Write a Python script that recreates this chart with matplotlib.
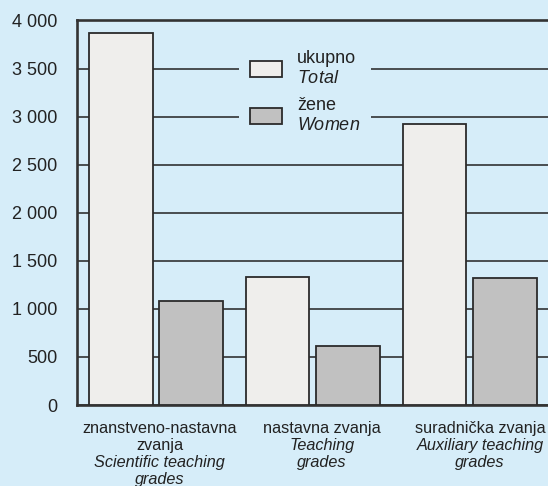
import numpy as np
import matplotlib.pyplot as plt
from matplotlib.ticker import FuncFormatter

plt.rcParams['font.family'] = ['Liberation Sans', 'DejaVu Sans']
plt.rcParams['mathtext.fontset'] = 'custom'
plt.rcParams['mathtext.rm'] = 'Liberation Sans'
plt.rcParams['mathtext.it'] = 'Liberation Sans:italic'

# data
cat_hr = [['znanstveno-nastavna', 'zvanja'], ['nastavna zvanja'], ['suradnička zvanja']]
cat_en = [['Scientific teaching', 'grades'], ['Teaching', 'grades'], ['Auxiliary teaching', 'grades']]
total = [3870, 1330, 2920]
women = [1080, 615, 1320]
series_labels = ['ukupno\n$\\mathit{Total}$', 'žene\n$\\mathit{Women}$']

bg = '#d6edf9'
c_total = '#efeeec'
c_women = '#c1c1c1'
edge = '#2b2b2b'
txt = '#222222'

fig = plt.figure(figsize=(5.48, 4.86), dpi=100, facecolor=bg)
ax = fig.add_axes([77 / 548, 81 / 486, 1 - 77 / 548, 384.5 / 486])
ax.set_facecolor(bg)

x = np.arange(len(total)) * 2.47
off = 0.555
b1 = ax.bar(x - off, total, width=1.0, color=c_total, edgecolor=edge, linewidth=1.3, zorder=3)
b2 = ax.bar(x + off, women, width=1.0, color=c_women, edgecolor=edge, linewidth=1.3, zorder=3)

ax.set_xlim(-1.244, 6.173)
ax.set_ylim(0, 4000)
ax.set_yticks(range(0, 4001, 500))
ax.yaxis.set_major_formatter(FuncFormatter(lambda v, p: f'{int(v):,}'.replace(',', ' ')))
ax.grid(axis='y', color='#222222', linewidth=1.1, zorder=1)
ax.tick_params(axis='y', length=0, pad=14, labelsize=13, labelcolor=txt)
ax.set_xticks([])

# category labels, croatian upright and english italic, 17 px per line
label_x = x + np.array([0.06, 0.14, 0.16])
px = 72 / 100
for lx, hr, en in zip(label_x, cat_hr, cat_en):
    lines = [(s, 'normal') for s in hr] + [(s, 'italic') for s in en]
    for j, (s, style) in enumerate(lines):
        ax.annotate(s, xy=(lx, 0), xycoords=('data', 'axes fraction'),
                    xytext=(0, -(28 + 17 * j) * px), textcoords='offset points',
                    ha='center', va='baseline', fontsize=11.7, fontstyle=style,
                    color=txt, annotation_clip=False)

for s in ['left', 'bottom', 'top']:
    ax.spines[s].set_color('#333333')
    ax.spines[s].set_linewidth(1.9)
ax.spines['right'].set_visible(False)

leg = ax.legend([b1, b2], series_labels, loc='upper left',
                bbox_to_anchor=(239 / 548, 1 - 39 / 486), bbox_transform=fig.transFigure,
                fontsize=13, frameon=True, facecolor=bg, edgecolor='none', framealpha=1,
                handlelength=1.77, handleheight=1.0, handletextpad=0.83,
                borderpad=0.61, labelspacing=0.58, borderaxespad=0, fancybox=False)
leg.set_zorder(5)
for t in leg.get_texts():
    t.set_color(txt)

fig.savefig('out.png', dpi=100, facecolor=bg)
